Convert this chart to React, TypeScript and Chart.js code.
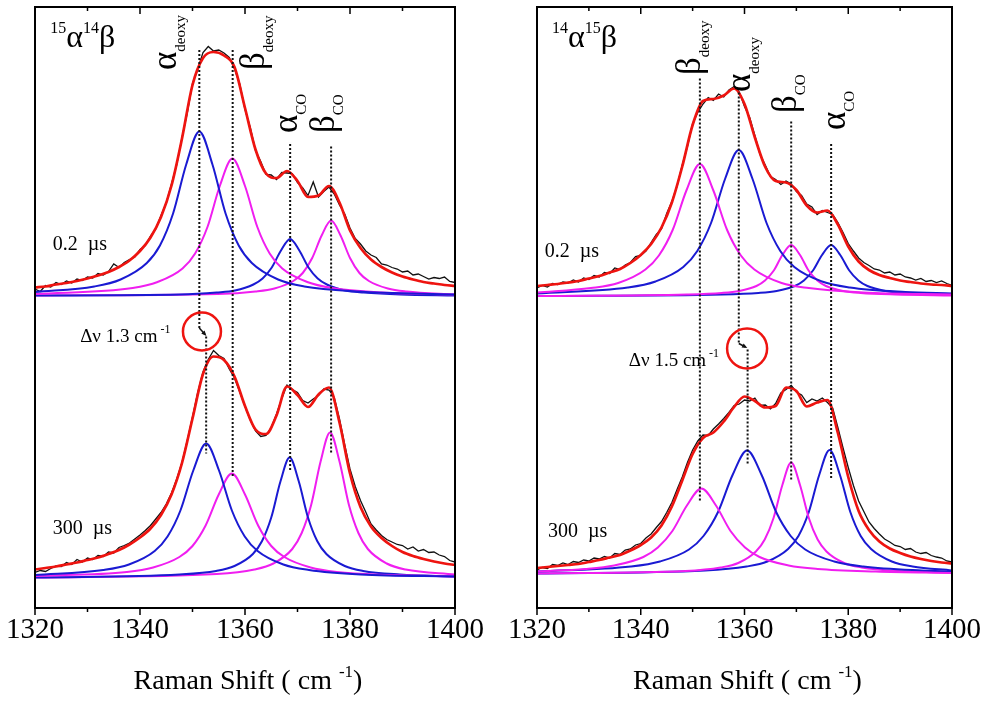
import { useEffect, useRef } from 'react';
import { Chart, registerables } from 'chart.js';

Chart.register(...registerables);

// ---------------- data ----------------
const DATA_X = [1320,1321,1322,1323,1324,1325,1326,1327,1328,1329,1330,1331,1332,1333,1334,1335,1336,1337,1338,1339,1340,1341,1342,1343,1344,1345,1346,1347,1348,1349,1350,1351,1352,1353,1354,1355,1356,1357,1358,1359,1360,1361,1362,1363,1364,1365,1366,1367,1368,1369,1370,1371,1372,1373,1374,1375,1376,1377,1378,1379,1380,1381,1382,1383,1384,1385,1386,1387,1388,1389,1390,1391,1392,1393,1394,1395,1396,1397,1398,1399,1400];
const FIT_X = [1320,1322,1324,1326,1328,1330,1332,1334,1336,1338,1340,1342,1344,1346,1348,1350,1352,1354,1356,1358,1360,1362,1364,1366,1368,1370,1372,1374,1376,1378,1380,1382,1384,1386,1388,1390,1392,1394,1396,1398,1400];
const X_TICKS = [1320, 1340, 1360, 1380, 1400];

// Panel A: 15α14β
const A_TOP_DATA = [63.6,63.1,64.3,64.0,64.9,64.5,65.2,64.8,65.6,65.3,66.0,65.8,66.7,66.4,67.1,68.6,67.9,68.9,69.5,70.0,71.5,72.3,74.2,75.6,78.3,80.8,84.6,88.5,93.9,98.8,104.7,107.6,110.9,112.1,111.2,111.4,110.8,109.9,107.6,104.6,99.5,95.9,91.3,89.1,86.5,86.4,85.5,86.9,86.8,86.7,84.9,83.8,82.3,85.0,82.0,83.1,84.0,82.6,80.4,78.6,75.8,73.7,72.6,71.2,70.4,69.9,68.6,68.4,67.9,67.6,67.0,67.2,66.4,66.6,66.1,65.6,65.9,65.7,66.0,65.1,64.9];
const A_TOP_FIT = [63.9,64.1,64.5,64.8,65.2,65.7,66.3,67.0,68.0,69.3,71.2,73.9,78.0,84.3,93.7,104.4,109.8,111.0,110.3,108.0,99.8,91.5,86.7,85.8,87.2,85.2,82.0,82.3,84.2,80.9,75.3,71.8,69.5,68.0,66.9,66.1,65.5,65.0,64.7,64.4,64.2];
const A_TOP_ADEOXY_X = [1320,1331.3,1336.3,1341.3,1343.8,1346.3,1348.8,1351.3,1353.8,1356.3,1358.8,1361.3,1366.3,1371.3,1381.3,1400];
const A_TOP_ADEOXY_Y = [63.0,64.1,65.5,68.8,72.3,78.7,88.5,95.1,88.5,78.7,72.3,68.8,65.5,64.1,63.1,62.5];
const A_TOP_BDEOXY_X = [1320,1338.6,1343.35,1348.1,1350.5,1352.85,1355.2,1357.6,1360.0,1362.35,1364.7,1367.1,1371.85,1376.6,1386.1,1400];
const A_TOP_BDEOXY_Y = [62.6,63.8,65.0,67.7,70.7,76.0,84.2,89.7,84.2,76.0,70.7,67.7,65.0,63.8,62.9,62.5];
const A_TOP_ACO_X = [1320,1347.6,1354.6,1358.1,1361.6,1363.35,1365.1,1366.85,1368.6,1370.35,1372.1,1373.85,1375.6,1379.1,1382.6,1389.6,1400];
const A_TOP_ACO_Y = [62.3,62.5,62.9,63.3,64.5,65.7,67.9,71.3,73.6,71.3,67.9,65.7,64.5,63.3,62.9,62.5,62.3];
const A_TOP_BCO_X = [1320,1354.8,1362.0,1365.6,1369.2,1371.0,1372.8,1374.6,1376.4,1378.2,1380.0,1381.8,1383.6,1387.2,1390.8,1400];
const A_TOP_BCO_Y = [62.3,62.6,63.1,63.7,65.2,66.8,69.8,74.3,77.3,74.3,69.8,66.8,65.2,63.7,63.1,62.5];

const A_BOT_DATA = [6.9,7.3,7.1,7.7,8.2,8.1,8.9,8.5,9.5,9.0,9.8,9.5,10.3,10.1,11.0,10.8,11.9,12.3,12.8,13.6,14.4,15.3,16.3,17.6,18.9,20.6,22.8,25.6,28.9,33.3,38.0,42.9,47.0,49.5,51.3,50.3,49.7,47.6,45.8,43.0,40.1,37.4,35.2,34.1,34.3,35.9,38.6,41.7,44.4,43.5,42.9,41.3,40.8,41.6,42.3,43.6,43.4,41.9,37.6,32.4,27.6,24.1,21.3,19.0,16.6,15.4,14.3,13.5,13.0,12.5,12.3,11.6,12.0,11.2,11.5,10.9,11.0,10.4,10.1,9.3,9.0];
const A_BOT_FIT = [7.5,7.8,8.1,8.5,8.9,9.4,9.9,10.6,11.4,12.5,13.9,15.7,18.4,22.5,28.8,37.7,46.6,50.1,49.4,46.1,40.2,35.5,34.6,38.3,44.1,42.4,40.0,42.5,43.9,36.9,26.7,20.0,16.1,13.8,12.2,11.0,10.2,9.6,9.1,8.7,8.4];
const A_BOT_ADEOXY_X = [1320,1333.0,1337.9,1342.8,1345.25,1347.7,1350.15,1352.6,1355.05,1357.5,1359.95,1362.4,1367.3,1372.2,1382.0,1400];
const A_BOT_ADEOXY_Y = [6.4,7.4,8.5,11.2,14.1,19.3,27.3,32.7,27.3,19.3,14.1,11.2,8.5,7.4,6.5,6.1];
const A_BOT_BDEOXY_X = [1320,1337.5,1342.5,1347.5,1350.0,1352.5,1355.0,1357.5,1360.0,1362.5,1365.0,1367.5,1372.5,1377.5,1387.5,1400];
const A_BOT_BDEOXY_Y = [6.2,7.0,7.9,10.0,12.2,16.3,22.5,26.7,22.5,16.3,12.2,10.0,7.9,7.0,6.4,6.1];
const A_BOT_ACO_X = [1320,1347.5,1354.5,1358.0,1361.5,1363.25,1365.0,1366.75,1368.5,1370.25,1372.0,1373.75,1375.5,1379.0,1382.5,1389.5,1400];
const A_BOT_ACO_Y = [5.9,6.5,7.2,8.2,10.6,13.2,17.9,25.1,29.9,25.1,17.9,13.2,10.6,8.2,7.2,6.5,6.1];
const A_BOT_BCO_X = [1320,1354.6,1361.8,1365.4,1369.0,1370.8,1372.6,1374.4,1376.2,1378.0,1379.8,1381.6,1383.4,1387.0,1390.6,1400];
const A_BOT_BCO_Y = [5.9,6.6,7.5,8.7,11.6,14.8,20.4,29.1,34.9,29.1,20.4,14.8,11.6,8.7,7.5,6.5];

// Panel B: 14α15β
const B_TOP_DATA = [63.8,64.3,64.0,64.7,64.5,65.0,64.8,65.4,65.0,65.8,65.5,66.3,66.0,66.9,66.7,67.8,67.5,68.4,68.9,70.1,70.3,71.2,72.9,74.5,75.6,78.7,81.1,84.2,88.4,92.1,96.7,98.9,100.6,101.9,101.3,102.6,102.0,103.4,104.1,103.0,100.1,97.9,94.3,90.5,88.4,86.1,85.5,84.5,85.2,84.6,83.1,82.3,80.6,80.0,78.5,79.3,78.9,78.5,76.9,74.9,72.7,71.2,69.8,68.9,68.3,67.6,67.4,66.8,67.0,66.4,66.6,66.0,65.8,65.4,65.7,65.1,65.3,64.9,65.2,64.7,64.3];
const B_TOP_FIT = [64.2,64.4,64.6,64.9,65.2,65.7,66.2,66.9,67.6,68.8,70.4,72.6,75.9,80.9,88.1,96.4,101.2,101.6,102.3,103.7,100.6,93.9,88.0,85.2,84.9,83.4,80.3,78.9,79.3,76.5,72.1,69.1,67.4,66.4,65.8,65.3,65.0,64.7,64.5,64.4,64.2];
const B_TOP_BDEOXY_X = [1320,1330.4,1335.65,1340.9,1343.5,1346.15,1348.8,1351.4,1354.0,1356.65,1359.3,1361.9,1367.15,1372.4,1382.9,1400];
const B_TOP_BDEOXY_Y = [62.9,63.8,64.8,67.5,70.3,75.4,83.3,88.6,83.3,75.4,70.3,67.5,64.8,63.8,62.9,62.5];
const B_TOP_ADEOXY_X = [1320,1337.5,1342.85,1348.2,1350.9,1353.55,1356.25,1358.9,1361.55,1364.25,1366.9,1369.6,1374.95,1380.3,1391.0,1400];
const B_TOP_ADEOXY_Y = [62.7,63.9,65.1,68.0,71.2,76.8,85.6,91.4,85.6,76.8,71.2,68.0,65.1,63.9,63.0,62.7];
const B_TOP_BCO_X = [1320,1348.9,1355.6,1358.95,1362.3,1363.95,1365.65,1367.3,1369.0,1370.7,1372.35,1374.05,1375.7,1379.05,1382.4,1389.1,1400];
const B_TOP_BCO_Y = [62.2,62.5,62.8,63.2,64.2,65.3,67.3,70.4,72.4,70.4,67.3,65.3,64.2,63.2,62.8,62.5,62.3];
const B_TOP_ACO_X = [1320,1355.7,1362.7,1366.2,1369.7,1371.45,1373.2,1374.95,1376.7,1378.45,1380.2,1381.95,1383.7,1387.2,1390.7,1400];
const B_TOP_ACO_Y = [62.2,62.5,62.8,63.2,64.2,65.3,67.3,70.4,72.4,70.4,67.3,65.3,64.2,63.2,62.8,62.4];

const B_BOT_DATA = [7.4,7.9,7.7,8.5,8.3,8.8,8.5,9.1,8.9,9.4,9.2,9.8,9.6,10.1,9.8,10.7,10.5,11.4,11.6,12.4,12.7,13.8,14.6,15.9,17.1,18.9,20.9,23.5,26.0,28.9,31.4,33.2,34.4,34.3,35.6,36.6,37.7,38.9,40.3,40.6,41.4,41.2,41.8,40.3,40.4,39.6,40.7,42.8,43.5,44.3,43.0,42.4,40.9,41.6,41.2,41.8,40.9,39.8,35.9,31.8,27.9,24.3,21.2,19.1,17.0,15.7,14.6,13.6,13.0,12.3,12.1,11.5,11.7,11.0,10.7,10.9,10.3,10.0,9.8,9.2,9.0];
const B_BOT_FIT = [7.8,8.0,8.2,8.4,8.6,9.0,9.4,9.9,10.4,11.3,12.4,13.9,16.3,20.1,25.3,30.6,33.8,34.9,37.1,40.0,42.1,41.2,39.9,40.2,43.9,43.2,40.1,40.9,41.4,34.8,26.0,19.2,15.4,13.1,11.7,10.8,10.1,9.6,9.2,8.9,8.7];
const B_BOT_BDEOXY_X = [1320,1329.3,1334.9,1340.5,1343.3,1346.1,1348.9,1351.7,1354.5,1357.3,1360.1,1362.9,1368.5,1374.1,1385.3,1400];
const B_BOT_BDEOXY_Y = [7.1,7.6,8.3,10.0,11.9,15.2,20.3,23.7,20.3,15.2,11.9,10.0,8.3,7.6,7.1,6.8];
const B_BOT_ADEOXY_X = [1320,1338.1,1343.7,1349.3,1352.1,1354.9,1357.7,1360.5,1363.3,1366.1,1368.9,1371.7,1377.3,1382.9,1394.1,1400];
const B_BOT_ADEOXY_Y = [7.1,8.1,9.1,11.5,14.2,19.0,26.4,31.3,26.4,19.0,14.2,11.5,9.1,8.1,7.3,7.1];
const B_BOT_BCO_X = [1320,1348.6,1355.4,1358.8,1362.2,1363.9,1365.6,1367.3,1369.0,1370.7,1372.4,1374.1,1375.8,1379.2,1382.6,1389.4,1400];
const B_BOT_BCO_Y = [6.7,7.2,7.9,8.8,11.1,13.5,17.8,24.4,28.9,24.4,17.8,13.5,11.1,8.8,7.9,7.2,6.9];
const B_BOT_ACO_X = [1320,1352.4,1360.4,1364.4,1368.4,1370.4,1372.4,1374.4,1376.4,1378.4,1380.4,1382.4,1384.4,1388.4,1392.4,1400];
const B_BOT_ACO_Y = [6.7,7.3,8.1,9.1,11.6,14.2,19.0,26.4,31.4,26.4,19.0,14.2,11.6,9.1,8.1,7.3];

// ---------------- styles ----------------
const BLUE = '#1a1ad2';
const MAGENTA = '#f01ef0';
const RED = '#ee1410';
const BLACK = '#111111';
const FONT = '"Liberation Serif", "Times New Roman", serif';

type Part = { t: string; size: number; dy?: number };
type Label = { x: number; y: number; parts: Part[]; rot?: boolean };
type VLine = { x: number; y1: number; y2: number };
type PanelCfg = {
  labels: Label[];
  vlines: VLine[];
  arrow: { x1: number; y1: number; x2: number; y2: number };
  circle: { x: number; y: number; r: number };
};

const sub = (g: string, s: string): Part[] => [{ t: g, size: 35 }, { t: s, size: 15, dy: 9 }];

const PANEL_A: PanelCfg = {
  labels: [
    { x: 1322.9, y: 112, parts: [{ t: '15', size: 16, dy: -14 }, { t: 'α', size: 32 }, { t: '14', size: 16, dy: -14 }, { t: 'β', size: 32 }] },
    { x: 1346.9, y: 107.4, rot: true, parts: sub('α', 'deoxy') },
    { x: 1363.6, y: 107.4, rot: true, parts: sub('β', 'deoxy') },
    { x: 1369.9, y: 94.8, rot: true, parts: sub('α', 'CO') },
    { x: 1377.0, y: 94.8, rot: true, parts: sub('β', 'CO') },
    { x: 1323.4, y: 71.4, parts: [{ t: '0.2  µs', size: 20 }] },
    { x: 1323.4, y: 14.6, parts: [{ t: '300  µs', size: 20 }] },
    { x: 1328.6, y: 53.0, parts: [{ t: 'Δν 1.3 cm', size: 19 }, { t: ' -1', size: 12, dy: -9 }] },
  ],
  vlines: [
    { x: 1351.3, y1: 111.4, y2: 55.8 },
    { x: 1352.6, y1: 54.1, y2: 30.7 },
    { x: 1357.65, y1: 111.4, y2: 25.8 },
    { x: 1368.6, y1: 92.6, y2: 27.1 },
    { x: 1376.4, y1: 92.1, y2: 30.7 },
  ],
  arrow: { x1: 1351.3, y1: 55.8, x2: 1352.4, y2: 54.5 },
  circle: { x: 1351.8, y: 55.1, r: 19 },
};

const PANEL_B: PanelCfg = {
  labels: [
    { x: 1322.9, y: 112, parts: [{ t: '14', size: 16, dy: -14 }, { t: 'α', size: 32 }, { t: '15', size: 16, dy: -14 }, { t: 'β', size: 32 }] },
    { x: 1351.4, y: 106.4, rot: true, parts: sub('β', 'deoxy') },
    { x: 1361.1, y: 103.0, rot: true, parts: sub('α', 'deoxy') },
    { x: 1369.9, y: 98.8, rot: true, parts: sub('β', 'CO') },
    { x: 1379.3, y: 95.4, rot: true, parts: sub('α', 'CO') },
    { x: 1321.5, y: 70.0, parts: [{ t: '0.2  µs', size: 20 }] },
    { x: 1322.1, y: 14.0, parts: [{ t: '300  µs', size: 20 }] },
    { x: 1337.7, y: 48.2, parts: [{ t: 'Δν 1.5 cm', size: 19 }, { t: ' -1', size: 12, dy: -9 }] },
  ],
  vlines: [
    { x: 1351.4, y1: 105.7, y2: 21.1 },
    { x: 1358.9, y1: 102.9, y2: 52.7 },
    { x: 1360.6, y1: 51.5, y2: 28.7 },
    { x: 1369.0, y1: 97.1, y2: 25.1 },
    { x: 1376.7, y1: 92.6, y2: 25.7 },
  ],
  arrow: { x1: 1358.9, y1: 52.7, x2: 1360.2, y2: 52.0 },
  circle: { x: 1360.5, y: 51.7, r: 20 },
};

const pts = (xs: number[], ys: number[]) => xs.map((x, i) => ({ x, y: ys[i] }));

const ds = (xs: number[], ys: number[], color: string, width: number, smooth: boolean) => ({
  data: pts(xs, ys),
  borderColor: color,
  backgroundColor: color,
  borderWidth: width,
  pointRadius: 0,
  fill: false,
  tension: 0,
  cubicInterpolationMode: smooth ? 'monotone' : 'default',
});

function drawParts(ctx: CanvasRenderingContext2D, x: number, y: number, parts: Part[], rot = false, center = false) {
  ctx.save();
  ctx.translate(x, y);
  if (rot) ctx.rotate(-Math.PI / 2);
  ctx.fillStyle = '#000';
  ctx.textBaseline = 'alphabetic';
  ctx.textAlign = 'left';
  let total = 0;
  for (const p of parts) {
    ctx.font = `${p.size}px ${FONT}`;
    total += ctx.measureText(p.t).width;
  }
  let cx = center ? -total / 2 : 0;
  for (const p of parts) {
    ctx.font = `${p.size}px ${FONT}`;
    ctx.fillText(p.t, cx, p.dy || 0);
    cx += ctx.measureText(p.t).width;
  }
  ctx.restore();
}

function makePlugin(cfg: PanelCfg) {
  return {
    id: 'decor',
    afterDraw(chart: any) {
      const ctx: CanvasRenderingContext2D = chart.ctx;
      const xs = chart.scales.x;
      const ys = chart.scales.y;
      const { left, right, top, bottom } = chart.chartArea;
      const px = (v: number) => xs.getPixelForValue(v);
      const py = (v: number) => ys.getPixelForValue(v);
      ctx.save();
      // dotted guide lines
      ctx.strokeStyle = BLACK;
      ctx.lineWidth = 2;
      ctx.setLineDash([2, 2]);
      for (const l of cfg.vlines) {
        ctx.beginPath();
        ctx.moveTo(px(l.x), py(l.y1));
        ctx.lineTo(px(l.x), py(l.y2));
        ctx.stroke();
      }
      ctx.setLineDash([]);
      // arrow
      const a = cfg.arrow;
      const ax1 = px(a.x1), ay1 = py(a.y1), ax2 = px(a.x2), ay2 = py(a.y2);
      ctx.lineWidth = 1.5;
      ctx.beginPath();
      ctx.moveTo(ax1, ay1);
      ctx.lineTo(ax2, ay2);
      ctx.stroke();
      const ang = Math.atan2(ay2 - ay1, ax2 - ax1);
      ctx.fillStyle = BLACK;
      ctx.beginPath();
      ctx.moveTo(ax2 + 2 * Math.cos(ang), ay2 + 2 * Math.sin(ang));
      ctx.lineTo(ax2 - 4 * Math.cos(ang - 0.6), ay2 - 4 * Math.sin(ang - 0.6));
      ctx.lineTo(ax2 - 4 * Math.cos(ang + 0.6), ay2 - 4 * Math.sin(ang + 0.6));
      ctx.closePath();
      ctx.fill();
      // circle
      ctx.strokeStyle = RED;
      ctx.lineWidth = 2.5;
      ctx.beginPath();
      ctx.arc(px(cfg.circle.x), py(cfg.circle.y), cfg.circle.r, 0, Math.PI * 2);
      ctx.stroke();
      // frame
      ctx.strokeStyle = '#000';
      ctx.lineWidth = 2;
      ctx.strokeRect(left, top, right - left, bottom - top);
      // ticks (major every 20, minor every 10)
      ctx.lineWidth = 1.5;
      for (let v = 1320; v <= 1400; v += 10) {
        const major = v % 20 === 0;
        const len = major ? 7 : 4;
        const x = px(v);
        ctx.beginPath();
        ctx.moveTo(x, bottom);
        ctx.lineTo(x, bottom + len);
        ctx.moveTo(x, top);
        ctx.lineTo(x, top + len);
        ctx.stroke();
      }
      // labels
      for (const l of cfg.labels) drawParts(ctx, px(l.x), py(l.y), l.parts, !!l.rot);
      // axis title
      drawParts(ctx, (left + right) / 2 + 3, bottom + 81, [
        { t: 'Raman Shift ( cm ', size: 28 },
        { t: '-1', size: 17, dy: -12 },
        { t: ')', size: 28 },
      ], false, true);
      ctx.restore();
    },
  };
}

function buildChart(canvas: HTMLCanvasElement, cfg: PanelCfg, datasets: any[], padLeft: number, padRight: number) {
  return new Chart(canvas, {
    type: 'line',
    data: { datasets },
    options: {
      animation: false,
      responsive: false,
      events: [],
      layout: { padding: { left: padLeft, right: padRight, top: 7, bottom: 0 } },
      plugins: { legend: { display: false }, tooltip: { enabled: false }, title: { display: false } },
      scales: {
        x: {
          type: 'linear',
          min: 1320,
          max: 1400,
          afterFit: (scale: any) => { scale.height = 94; },
          afterBuildTicks: (scale: any) => { scale.ticks = X_TICKS.map((v) => ({ value: v })); },
          grid: { display: false, drawTicks: false },
          border: { display: false },
          ticks: {
            color: '#000',
            padding: 5,
            maxRotation: 0,
            autoSkip: false,
            font: { family: FONT, size: 29 },
            callback: (v: any) => String(v),
          },
        },
        y: { type: 'linear', display: false, min: -0.2, max: 120 },
      },
    } as any,
    plugins: [makePlugin(cfg) as any],
  });
}

function panelDatasets(p: {
  topFit: number[]; botFit: number[]; topData: number[]; botData: number[];
  comps: { x: number[]; y: number[]; color: string }[];
}) {
  return [
    ds(FIT_X, p.topFit, RED, 2.7, true),
    ds(FIT_X, p.botFit, RED, 2.7, true),
    ...p.comps.map((c) => ds(c.x, c.y, c.color, 2, true)),
    ds(DATA_X, p.topData, BLACK, 1.3, false),
    ds(DATA_X, p.botData, BLACK, 1.3, false),
  ];
}

export default function App() {
  const leftRef = useRef<HTMLCanvasElement>(null);
  const rightRef = useRef<HTMLCanvasElement>(null);

  useEffect(() => {
    Chart.defaults.font.family = FONT;
    const left = buildChart(leftRef.current!, PANEL_A, panelDatasets({
      topFit: A_TOP_FIT, botFit: A_BOT_FIT, topData: A_TOP_DATA, botData: A_BOT_DATA,
      comps: [
        { x: A_TOP_ADEOXY_X, y: A_TOP_ADEOXY_Y, color: BLUE },
        { x: A_TOP_BDEOXY_X, y: A_TOP_BDEOXY_Y, color: MAGENTA },
        { x: A_TOP_ACO_X, y: A_TOP_ACO_Y, color: BLUE },
        { x: A_TOP_BCO_X, y: A_TOP_BCO_Y, color: MAGENTA },
        { x: A_BOT_ADEOXY_X, y: A_BOT_ADEOXY_Y, color: BLUE },
        { x: A_BOT_BDEOXY_X, y: A_BOT_BDEOXY_Y, color: MAGENTA },
        { x: A_BOT_ACO_X, y: A_BOT_ACO_Y, color: BLUE },
        { x: A_BOT_BCO_X, y: A_BOT_BCO_Y, color: MAGENTA },
      ],
    }), 35, 38);
    const right = buildChart(rightRef.current!, PANEL_B, panelDatasets({
      topFit: B_TOP_FIT, botFit: B_BOT_FIT, topData: B_TOP_DATA, botData: B_BOT_DATA,
      comps: [
        { x: B_TOP_BDEOXY_X, y: B_TOP_BDEOXY_Y, color: MAGENTA },
        { x: B_TOP_ADEOXY_X, y: B_TOP_ADEOXY_Y, color: BLUE },
        { x: B_TOP_BCO_X, y: B_TOP_BCO_Y, color: MAGENTA },
        { x: B_TOP_ACO_X, y: B_TOP_ACO_Y, color: BLUE },
        { x: B_BOT_BDEOXY_X, y: B_BOT_BDEOXY_Y, color: MAGENTA },
        { x: B_BOT_ADEOXY_X, y: B_BOT_ADEOXY_Y, color: BLUE },
        { x: B_BOT_BCO_X, y: B_BOT_BCO_Y, color: MAGENTA },
        { x: B_BOT_ACO_X, y: B_BOT_ACO_Y, color: BLUE },
      ],
    }), 44, 32);
    return () => {
      left.destroy();
      right.destroy();
    };
  }, []);

  return (
    <div style={{ position: 'absolute', left: 0, top: 0, width: 986, height: 702, background: '#fff' }}>
      <canvas ref={leftRef} width={493} height={702} style={{ position: 'absolute', left: 0, top: 0, width: 493, height: 702 }} />
      <canvas ref={rightRef} width={493} height={702} style={{ position: 'absolute', left: 493, top: 0, width: 493, height: 702 }} />
    </div>
  );
}
